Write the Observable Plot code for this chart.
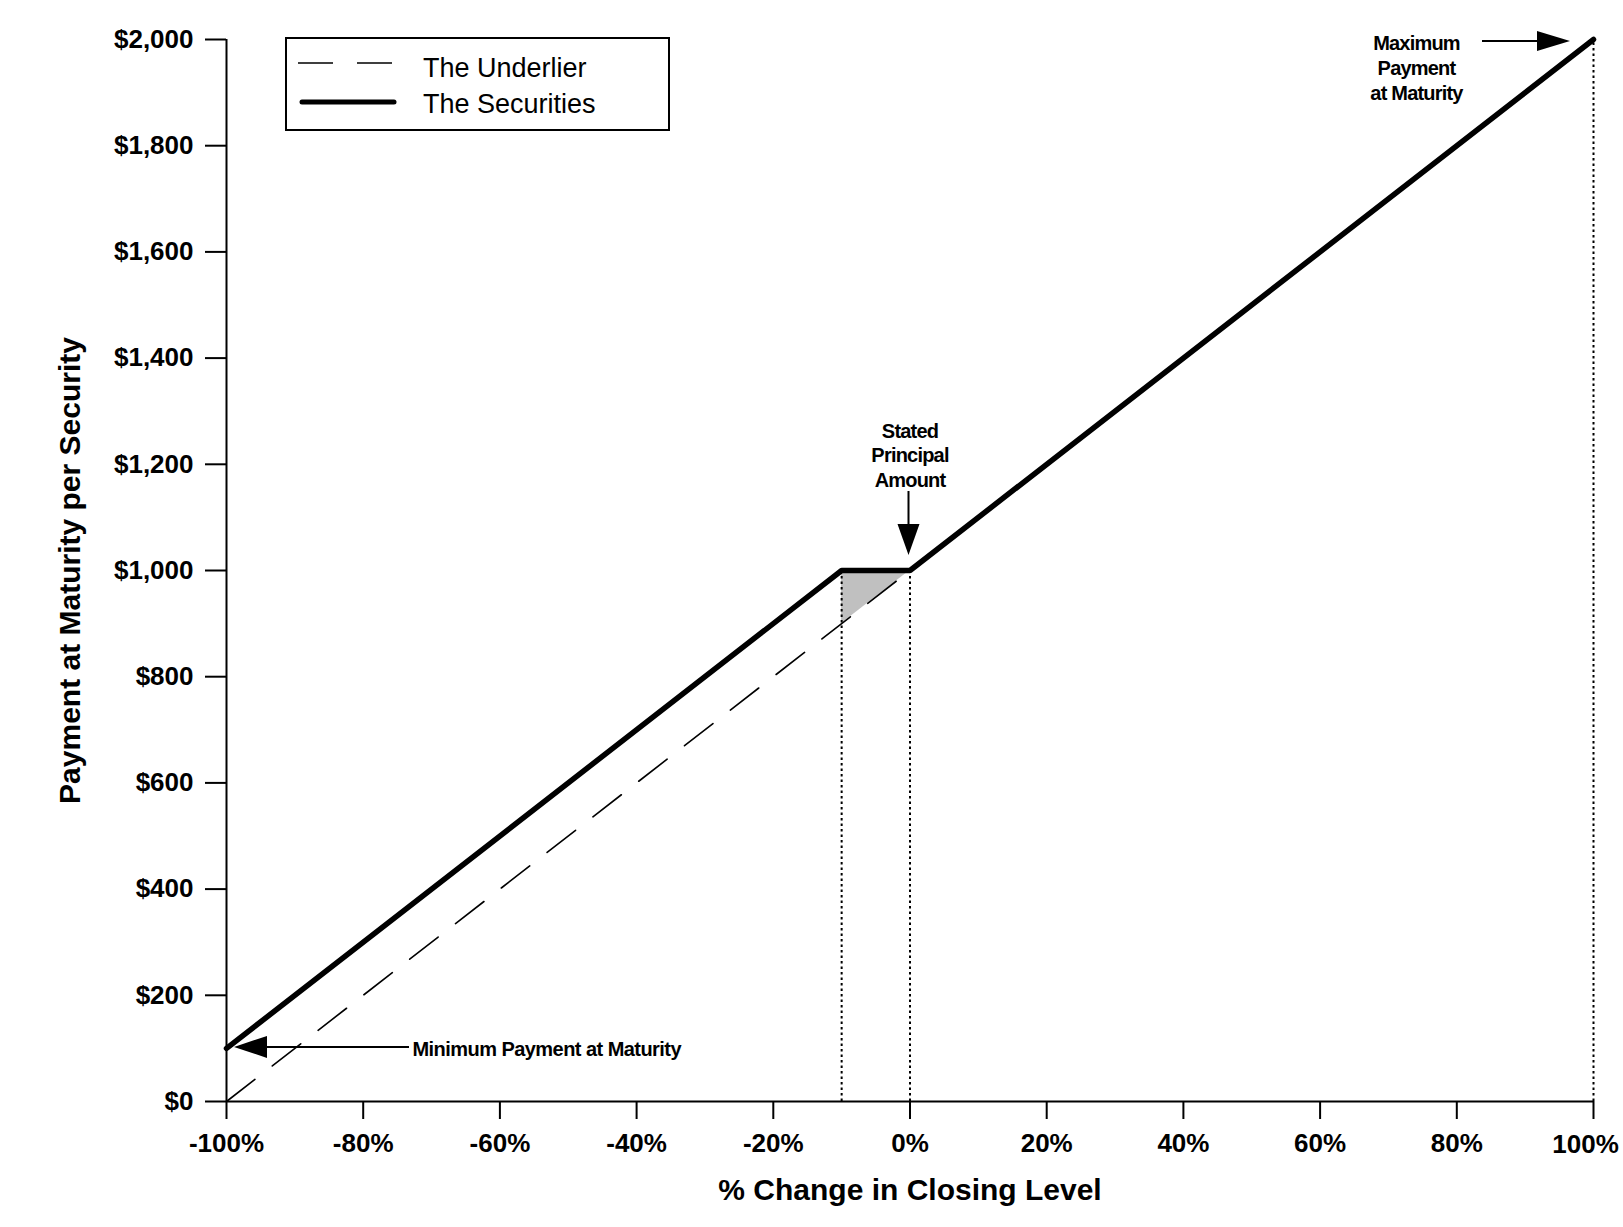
<!DOCTYPE html>
<html>
<head>
<meta charset="utf-8">
<script src="https://cdn.jsdelivr.net/npm/d3@7"></script>
<script src="https://cdn.jsdelivr.net/npm/@observablehq/plot@0.6"></script>
<style>
  body { margin: 0; background: #fff; }
  svg { display: block; }
</style>
</head>
<body>
<div id="chart"></div>
<script>
// ---- data ----
const pctChange = [-100, -10, 0, 100];
const securitiesPayment = [100, 1000, 1000, 2000];
const underlierPct = [-100, 100];
const underlierPayment = [0, 2000];
const bufferPct = [-10, 0];
const bufferLow = [900, 1000];
const bufferHigh = [1000, 1000];
const markerPct = [-10, 0, 100];
const markerPayment = [1000, 1000, 2000];
const xTicks = [-100, -80, -60, -40, -20, 0, 20, 40, 60, 80, 100];
const xTickLabels = ["-100%", "-80%", "-60%", "-40%", "-20%", "0%", "20%", "40%", "60%", "80%", "100%"];
const yTicks = [0, 200, 400, 600, 800, 1000, 1200, 1400, 1600, 1800, 2000];
const yTickLabels = ["$0", "$200", "$400", "$600", "$800", "$1,000", "$1,200", "$1,400", "$1,600", "$1,800", "$2,000"];
const seriesNames = ["The Underlier", "The Securities"];
const xTitle = "% Change in Closing Level";
const yTitle = "Payment at Maturity per Security";
const annoMinimum = {x: -100, y: 100, text: "Minimum Payment at Maturity"};
const annoStated = {x: 0, y: 1000, text: "Stated\nPrincipal\nAmount"};
const annoMaximum = {x: 100, y: 2000, text: "Maximum\nPayment\nat Maturity"};

// ---- tables ----
const securities = pctChange.map((x, i) => ({x, y: securitiesPayment[i]}));
const underlier = underlierPct.map((x, i) => ({x, y: underlierPayment[i]}));
const buffer = bufferPct.map((x, i) => ({x, y1: bufferLow[i], y2: bufferHigh[i]}));
const markers = markerPct.map((x, i) => ({x, y: markerPayment[i]}));
const xTicksInner = xTicks.slice(0, -1);
const xTicksLast = xTicks.slice(-1);

const FONT = "'Liberation Sans', Arial, Helvetica, sans-serif";
const annoFont = {fontSize: 20, fontWeight: "bold", fontFamily: FONT};
const xLabel = d => xTickLabels[xTicks.indexOf(d)];

const chart = Plot.plot({
  width: 1623,
  height: 1227,
  marginLeft: 226,
  marginRight: 30,
  marginTop: 39,
  marginBottom: 126,
  style: {fontFamily: FONT, fontSize: "26px", fontWeight: "bold", color: "#000", background: "#fff", overflow: "visible"},
  x: {domain: [-100, 100]},
  y: {domain: [0, 2000]},
  marks: [
    Plot.areaY(buffer, {x: "x", y1: "y1", y2: "y2", fill: "#c0c0c0", fillOpacity: 1}),
    Plot.ruleX(markers, {x: "x", y1: 0, y2: "y", stroke: "#000", strokeWidth: 2, strokeDasharray: "2.5,3"}),
    Plot.line(underlier, {x: "x", y: "y", stroke: "#000", strokeWidth: 1.6, strokeDasharray: "36,22"}),
    Plot.line(securities, {x: "x", y: "y", stroke: "#000", strokeWidth: 5.5, strokeLinejoin: "miter", strokeLinecap: "round"}),
    Plot.ruleX([-100], {stroke: "#000", strokeWidth: 2}),
    Plot.ruleY([0], {stroke: "#000", strokeWidth: 2}),
    Plot.axisX({ticks: xTicksInner, tickFormat: xLabel, tickSize: 18, tickPadding: 14, strokeWidth: 2, label: null, fontSize: 26, fontWeight: "bold"}),
    Plot.axisX({ticks: xTicksLast, tickSize: 18, tickFormat: null, text: null, strokeWidth: 2, label: null}),
    Plot.text(xTicksLast, {x: d => d, frameAnchor: "bottom", text: xLabel, lineAnchor: "top", dx: -8, dy: 33, fontSize: 26, fontWeight: "bold", fontFamily: FONT}),
    Plot.axisY({ticks: yTicks, tickFormat: d => yTickLabels[yTicks.indexOf(d)], tickSize: 21, tickPadding: 12, strokeWidth: 2, label: null, fontSize: 26, fontWeight: "bold"}),
    Plot.text([xTitle], {frameAnchor: "bottom", lineAnchor: "middle", dy: 89, fontSize: 30, fontWeight: "bold", fontFamily: FONT}),
    Plot.text([yTitle], {frameAnchor: "left", textAnchor: "middle", lineAnchor: "middle", dx: -156, rotate: -90, fontSize: 30, fontWeight: "bold", fontFamily: FONT}),
    Plot.text([annoMinimum], {x: "x", y: "y", text: "text", textAnchor: "start", dx: 186, dy: 1, ...annoFont}),
    Plot.text([annoStated], {x: "x", y: "y", text: "text", lineAnchor: "bottom", lineHeight: 1.22, dy: -84, ...annoFont}),
    Plot.text([annoMaximum], {x: "x", y: "y", text: "text", lineAnchor: "top", lineHeight: 1.25, dx: -177, dy: -7, ...annoFont})
  ]
});

const svg = d3.select(chart);
// condensed annotation lettering
svg.selectAll("text").each(function () {
  const t = this.textContent;
  if (t.startsWith("Minimum")) this.setAttribute("letter-spacing", "-0.55");
  else if (t.startsWith("Stated") || t.startsWith("Maximum")) this.setAttribute("letter-spacing", "-0.8");
});

// ---- arrows (filled heads) and legend, positioned via the plot's scales ----
const sx = chart.scale("x"), sy = chart.scale("y");
const g = svg.append("g");
function arrow(a, dirX, dirY, tipOff, headLen, halfW, total) {
  const px = sx.apply(a.x), py = sy.apply(a.y);
  const tx = px + tipOff[0], ty = py + tipOff[1];
  const bx = tx - dirX * headLen, by = ty - dirY * headLen;
  const ex = tx - dirX * total, ey = ty - dirY * total;
  const nx = -dirY, ny = dirX;
  g.append("line").attr("x1", bx).attr("y1", by).attr("x2", ex).attr("y2", ey)
    .attr("stroke", "#000").attr("stroke-width", 2);
  g.append("polygon")
    .attr("points", [[tx, ty], [bx + nx * halfW, by + ny * halfW], [bx - nx * halfW, by - ny * halfW]].map(p => p.join(",")).join(" "))
    .attr("fill", "#000");
}
arrow(annoMinimum, -1, 0, [8, -1], 33, 11, 175);
arrow(annoStated, 0, 1, [-1, -15], 31, 11, 64);
arrow(annoMaximum, 1, 0, [-23, 2], 33, 10, 88);

// legend box
const L = 226, T = 39;
const lg = svg.append("g");
lg.append("rect").attr("x", L + 60).attr("y", T - 1).attr("width", 383).attr("height", 92)
  .attr("fill", "#fff").attr("stroke", "#000").attr("stroke-width", 2);
lg.append("line").attr("x1", L + 72).attr("x2", L + 167).attr("y1", T + 24).attr("y2", T + 24)
  .attr("stroke", "#000").attr("stroke-width", 1.6).attr("stroke-dasharray", "35,24");
lg.append("line").attr("x1", L + 76).attr("x2", L + 168).attr("y1", T + 63).attr("y2", T + 63)
  .attr("stroke", "#000").attr("stroke-width", 5).attr("stroke-linecap", "round");
lg.selectAll("text").data(seriesNames).join("text")
  .attr("x", L + 197).attr("y", (d, i) => T + 38 + i * 36)
  .attr("text-anchor", "start")
  .attr("font-family", FONT).attr("font-size", 27).attr("font-weight", "normal")
  .attr("fill", "#000").text(d => d);

document.getElementById("chart").appendChild(chart);
</script>
</body>
</html>
